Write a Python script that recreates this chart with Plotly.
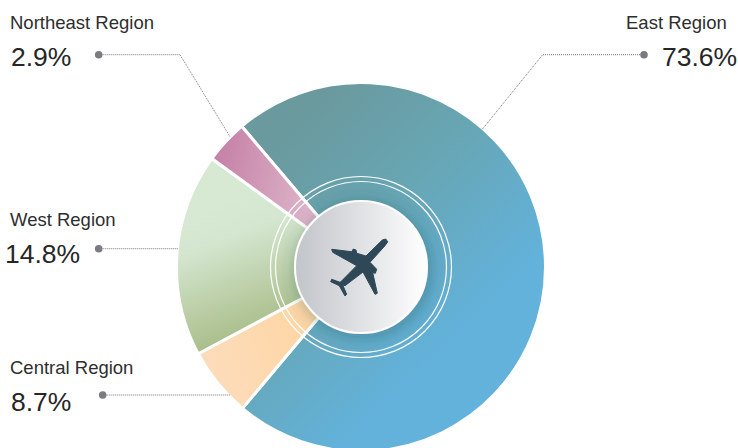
import plotly.graph_objects as go

# Data
regions = ["East Region", "Central Region", "West Region", "Northeast Region"]
label_percent = ["73.6%", "8.7%", "14.8%", "2.9%"]
# arc shares as actually drawn in the reference (its arcs differ slightly from its labels)
arc_shares = [72.3, 6.1, 17.8, 3.8]

W, H = 738, 454
CX, CY, R = 361, 267, 184.5
HOLE_R = 60
START_ANGLE = 319.7

TEXT_DARK = "#2e2e2e"
DOT = "#7b7b82"

# label layout: name x/y, value x/y, anchor
label_layout = {
    "East Region": (729, 22, 737, 57, "right"),
    "Central Region": (8, 367, 9, 402, "left"),
    "West Region": (8, 219, 3, 254, "left"),
    "Northeast Region": (8, 22, 9, 57, "left"),
}
leaders = {
    "East Region": [(644, 54.7), (542.7, 54.7), (481.7, 130)],
    "Central Region": [(102.7, 395), (230, 395)],
    "West Region": [(98.7, 248.7), (178, 248.7)],
    "Northeast Region": [(98.7, 54.7), (180, 54.7), (230, 136.7)],
}
plane_outline = [
    (197, 42), (203, 50), (195, 62), (150, 112), (170, 133), (166, 145), (158, 143), (172, 205), (165, 208),
    (129, 141), (75, 182), (68, 180), (80, 208), (75, 213), (62, 190), (58, 182), (32, 170), (35, 163),
    (60, 172), (64, 169), (110, 122), (38, 82), (35, 73), (95, 80), (100, 72), (108, 75), (110, 85),
    (138, 93), (187, 45),
]

fig = go.Figure()
fig.add_trace(go.Pie(
    labels=regions, values=arc_shares, sort=False, direction="clockwise", rotation=START_ANGLE,
    hole=HOLE_R / R, textinfo="none", hoverinfo="skip", showlegend=False,
    marker=dict(colors=["#62b2dc", "#fdd9b5", "#c0d4ac", "#d09ab8"], line=dict(color="#ffffff", width=3)),
    domain=dict(x=[(CX - R) / W, (CX + R) / W], y=[1 - (CY + R) / H, 1 - (CY - R) / H]),
))

shapes = []
for pts in leaders.values():
    path = "M" + " L".join(f"{x},{y}" for x, y in pts)
    shapes.append(dict(type="path", path=path, xref="x", yref="y",
                       line=dict(color="#77777c", width=1, dash="1px,1px")))
    x0, y0 = pts[0]
    shapes.append(dict(type="circle", xref="x", yref="y", x0=x0 - 3.8, x1=x0 + 3.8, y0=y0 - 3.8, y1=y0 + 3.8,
                       fillcolor=DOT, line=dict(width=0)))
# rings
for r in (90.5, 85.5):
    shapes.append(dict(type="circle", xref="x", yref="y", x0=CX - r, x1=CX + r, y0=CY - r, y1=CY + r,
                       fillcolor="rgba(0,0,0,0)", line=dict(color="#ffffff", width=1.2)))
# hub
shapes.append(dict(type="circle", xref="x", yref="y", x0=CX - 66, x1=CX + 66, y0=CY - 66, y1=CY + 66,
                   fillcolor="#c3c6cb", line=dict(color="#ffffff", width=2), name="hub"))
# plane
plane = "M" + " L".join(f"{320 + x / 3:.1f},{225 + y / 3:.1f}" for x, y in plane_outline) + " Z"
shapes.append(dict(type="path", path=plane, xref="x", yref="y", fillcolor="#2f4858",
                   line=dict(width=1, color="#2f4858")))

annotations = []
for name, pct in zip(regions, label_percent):
    nx, ny, vx, vy, anchor = label_layout[name]
    annotations.append(dict(text=name, x=nx, y=ny, xref="x", yref="y", xanchor=anchor, yanchor="middle",
                            showarrow=False, font=dict(family="Liberation Sans", size=18.5, color=TEXT_DARK)))
    annotations.append(dict(text=pct, x=vx, y=vy, xref="x", yref="y", xanchor=anchor, yanchor="middle",
                            xshift=2 if anchor == "right" else 0, showarrow=False,
                            font=dict(family="Liberation Sans", size=26.5, color="#262626")))

fig.update_layout(
    width=W, height=H, margin=dict(l=0, r=0, t=0, b=0), paper_bgcolor="#ffffff", plot_bgcolor="rgba(0,0,0,0)",
    xaxis=dict(range=[0, W], visible=False, domain=[0, 1]),
    yaxis=dict(range=[H, 0], visible=False, domain=[0, 1]),
    shapes=shapes, annotations=annotations, showlegend=False,
)

post = """
document.documentElement.style.overflow='hidden';
document.body.style.margin='0';document.body.style.overflow='hidden';
var gd=document.getElementById('{plot_id}');
var svg=gd.querySelector('svg.main-svg');
var NS='http://www.w3.org/2000/svg';
var defs=svg.querySelector('defs');
function grad(id,x1,y1,x2,y2,stops,units){
  var g=document.createElementNS(NS,'linearGradient');g.setAttribute('id',id);
  if(units)g.setAttribute('gradientUnits',units);
  g.setAttribute('x1',x1);g.setAttribute('y1',y1);g.setAttribute('x2',x2);g.setAttribute('y2',y2);
  stops.forEach(function(s){var t=document.createElementNS(NS,'stop');t.setAttribute('offset',s[0]);t.setAttribute('stop-color',s[1]);g.appendChild(t);});
  defs.appendChild(g);
}
var U='userSpaceOnUse';
grad('gEast',286,137,471,327,[[0,'#6a9a9e'],[0.45,'#67a6b4'],[1,'#62b2dc']],U);
grad('gCentral',201,367,311,327,[[0,'#fddcbc'],[1,'#fed6a4']],U);
grad('gWest',211,207,261,337,[[0,'#d7e9d3'],[0.25,'#d4e6cf'],[1,'#a6bb85']],U);
grad('gNE',211,167,311,187,[[0,'#c57fa5'],[1,'#dcb3c8']],U);
grad('gHub','0','0','1','0',[[0,'#c1c4c9'],[1,'#ffffff']]);
var f=document.createElementNS(NS,'filter');f.setAttribute('id','hubShadow');
f.setAttribute('x','-30%');f.setAttribute('y','-30%');f.setAttribute('width','160%');f.setAttribute('height','160%');
var d=document.createElementNS(NS,'feDropShadow');d.setAttribute('dx','2');d.setAttribute('dy','3');d.setAttribute('stdDeviation','9');
d.setAttribute('flood-color','#24404d');d.setAttribute('flood-opacity','0.35');f.appendChild(d);defs.appendChild(f);
var ids=['gEast','gCentral','gWest','gNE'];
gd.querySelectorAll('.pielayer .slice path.surface').forEach(function(p,i){p.style.fill='url(#'+ids[i]+')';});
gd.querySelectorAll('.shapelayer path').forEach(function(p){
  if((p.style.fill||'').indexOf('195, 198, 203')>=0){p.style.fill='url(#gHub)';p.setAttribute('filter','url(#hubShadow)');}
});
"""
fig.write_html("out.html", post_script=post, config=dict(displayModeBar=False, staticPlot=True))
